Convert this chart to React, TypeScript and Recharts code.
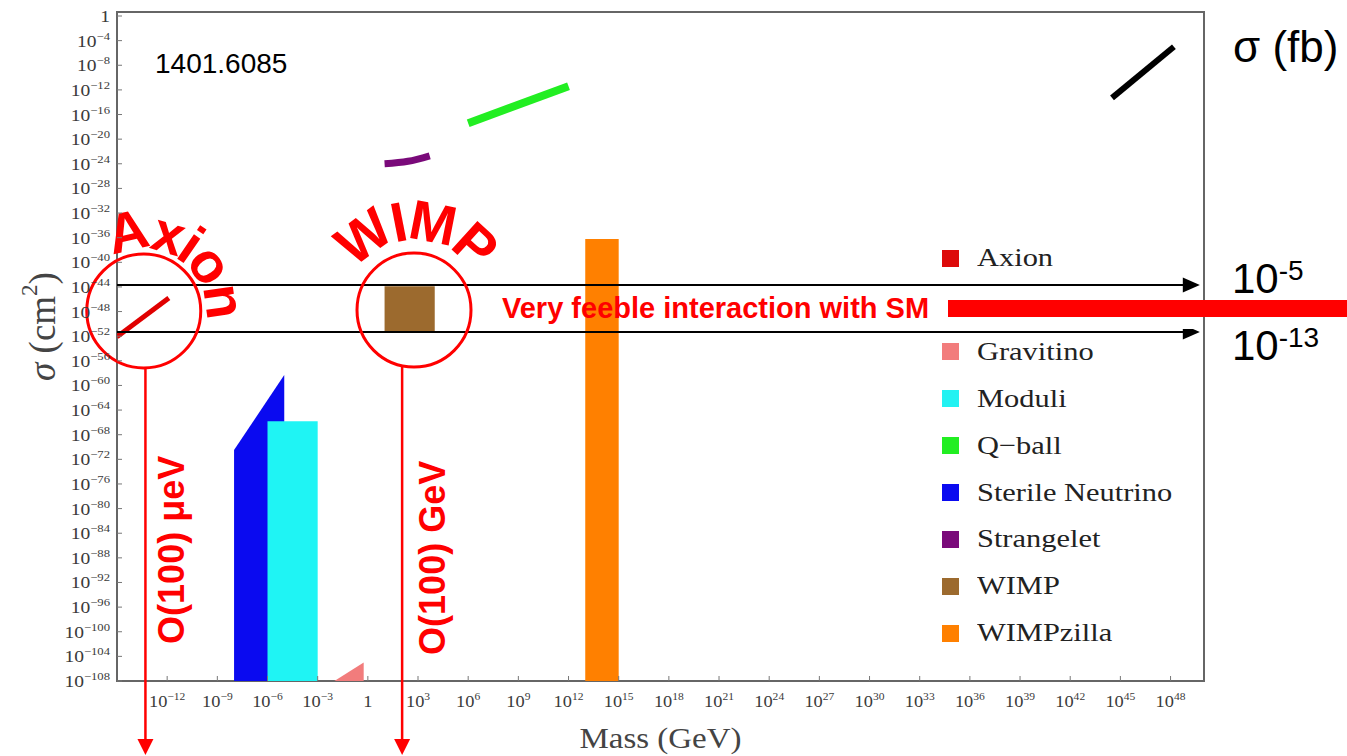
import React from 'react';
import {
  ComposedChart,
  Line,
  Area,
  XAxis,
  YAxis,
  ReferenceArea,
  ReferenceLine,
  ReferenceDot,
} from 'recharts';

// ---- data (log10 of mass in GeV, log10 of sigma in cm^2) ----
const axion = [
  { m: -15.0, s: -52.1 },
  { m: -11.9, s: -45.8 },
];
const blackHoles = [
  { m: 44.5, s: -13.3 },
  { m: 48.2, s: -5.0 },
];
const qBall = [
  { m: 6.0, s: -17.4 },
  { m: 12.0, s: -11.4 },
];
const strangelet = [
  { m: 1.0, s: -24.0 },
  { m: 2.4, s: -23.6 },
  { m: 3.7, s: -22.7 },
];
const gravitino = [
  { m: -2.0, r: [-108, -108] },
  { m: -0.25, r: [-108, -105] },
];
const sterileNeutrino = [
  { m: -8.0, r: [-108, -70.5] },
  { m: -5.0, r: [-108, -58.3] },
];
const moduli = [
  { m: -6.0, r: [-108, -65.8] },
  { m: -3.0, r: [-108, -65.8] },
];
const wimp = [
  { m: 1.0, r: [-51.2, -43.9] },
  { m: 4.0, r: [-51.2, -43.9] },
];
const wimpzilla = [
  { m: 13.0, r: [-108, -36.2] },
  { m: 15.0, r: [-108, -36.2] },
];

const massTicks = [-12, -9, -6, -3, 0, 3, 6, 9, 12, 15, 18, 21, 24, 27, 30, 33, 36, 39, 42, 45, 48];
const sigmaTicks = [
  0, -4, -8, -12, -16, -20, -24, -28, -32, -36, -40, -44, -48, -52, -56, -60, -64, -68,
  -72, -76, -80, -84, -88, -92, -96, -100, -104, -108,
];

const legendNames = [
  'Axion',
  'Black Holes',
  'Gravitino',
  'Moduli',
  'Q\u2212ball',
  'Sterile Neutrino',
  'Strangelet',
  'WIMP',
  'WIMPzilla',
];
const legendColors = [
  '#dd0a0a',
  '#000000',
  '#f27c7c',
  '#22f2f2',
  '#22ee22',
  '#0a0af0',
  '#7a0a7a',
  '#9c6a2e',
  '#ff8000',
];

// annotation anchors (data coordinates)
const circleMarks = [
  { name: 'Axion', m: -13.4, s: -47.9, angle: -57, rb: 62, fs: 56, ls: -4 },
  { name: 'WIMP', m: 2.76, s: -47.75, angle: -90, rb: 70, fs: 56, ls: -4 },
];
const downArrows = [
  { m: -13.3, s: -57.0 },
  { m: 2.05, s: -57.0 },
];
const massLabels = [
  { text: 'O(100) \u03bceV', m: -11.77, s: -86.7 },
  { text: 'O(100) GeV', m: 3.84, s: -88.0 },
];
const feebleBand = [-43.7, -51.3];

const SERIF = '"Liberation Serif", "Times New Roman", serif';
const SANS = '"Liberation Sans", Arial, sans-serif';
const TICK_COLOR = '#3a3a3a';

const YTick = (p: any) => {
  const { x, y, payload } = p;
  const e = payload.value;
  const ax = x + 7;
  return (
    <g>
      <line x1={ax} y1={y} x2={ax + 5} y2={y} stroke="#777" strokeWidth={1} />
      <g transform={`translate(${x},${y + 6}) scale(1.15,1)`}>
        <text x={0} y={0} textAnchor="end" fontFamily={SERIF} fontSize={17} fill={TICK_COLOR}>
          {e === 0 ? (
            '1'
          ) : (
            <>
              <tspan>10</tspan>
              <tspan dy={-7} fontSize={11}>{'\u2212' + Math.abs(e)}</tspan>
            </>
          )}
        </text>
      </g>
    </g>
  );
};

const XTick = (p: any) => {
  const { x, y, payload } = p;
  const e = payload.value;
  return (
    <g>
      <line x1={x} y1={y} x2={x} y2={y - 5} stroke="#777" strokeWidth={1} />
      <g transform={`translate(${x},${y + 26}) scale(1.05,1)`}>
        <text x={0} y={0} textAnchor="middle" fontFamily={SERIF} fontSize={17.5} fill={TICK_COLOR}>
          {e === 0 ? (
            '1'
          ) : (
            <>
              <tspan>10</tspan>
              <tspan dy={-7} fontSize={11}>{(e < 0 ? '\u2212' : '') + Math.abs(e)}</tspan>
            </>
          )}
        </text>
      </g>
    </g>
  );
};

const XLabel = (p: any) => {
  const vb = p.viewBox || { x: 117, y: 681, width: 1087, height: 75 };
  const cx = vb.x + vb.width / 2;
  return (
    <g transform={`translate(${cx},748) scale(1.1,1)`}>
      <text x={0} y={0} textAnchor="middle" fontFamily={SERIF} fontSize={30} fill="#444">
        Mass (GeV)
      </text>
    </g>
  );
};

const YLabel = (p: any) => {
  const vb = p.viewBox || { x: 0, y: 12, width: 117, height: 669 };
  const cy = vb.y + vb.height / 2 - 20;
  return (
    <text
      transform={`translate(42,${cy}) rotate(-90)`}
      textAnchor="middle"
      dominantBaseline="central"
      fontFamily={SERIF}
      fontSize={37}
      fill="#444"
    >
      <tspan fontStyle="italic">σ</tspan>
      <tspan> (cm</tspan>
      <tspan dy={-13} fontSize={23}>2</tspan>
      <tspan dy={13}>)</tspan>
    </text>
  );
};

const arrowRight = (p: any) => {
  const { x1, y1, x2, y2 } = p;
  return (
    <g>
      <line x1={x1} y1={y1} x2={x2 - 14} y2={y2} stroke="#000" strokeWidth={2} />
      <polygon points={`${x2},${y2} ${x2 - 17},${y2 - 7.5} ${x2 - 17},${y2 + 7.5}`} fill="#000" />
    </g>
  );
};

const makeCircle = (mark: any) => (p: any) => {
  const { cx, cy } = p;
  const rb = mark.rb;
  const a1 = ((mark.angle - 90) * Math.PI) / 180;
  const a2 = ((mark.angle + 90) * Math.PI) / 180;
  const sx = cx + rb * Math.cos(a1);
  const sy = cy + rb * Math.sin(a1);
  const ex = cx + rb * Math.cos(a2);
  const ey = cy + rb * Math.sin(a2);
  const id = 'arc-' + mark.name;
  return (
    <g>
      <circle cx={cx} cy={cy} r={57} fill="none" stroke="#ff0000" strokeWidth={3} />
      <path id={id} d={`M ${sx} ${sy} A ${rb} ${rb} 0 0 1 ${ex} ${ey}`} fill="none" stroke="none" />
      <text
        fontFamily={SANS}
        fontWeight="bold"
        fontSize={mark.fs}
        letterSpacing={mark.ls}
        fill="#ff0000"
      >
        <textPath href={`#${id}`} startOffset="50%" textAnchor="middle">
          {mark.name}
        </textPath>
      </text>
    </g>
  );
};

const arrowDown = (p: any) => {
  const { cx, cy } = p;
  return (
    <g>
      <line x1={cx} y1={cy} x2={cx} y2={742} stroke="#ff0000" strokeWidth={2.5} />
      <polygon points={`${cx},755 ${cx - 8},739 ${cx + 8},739`} fill="#ff0000" />
    </g>
  );
};

const makeMassLabel = (text: string) => (p: any) => {
  const { cx, cy } = p;
  return (
    <text
      transform={`translate(${cx},${cy}) rotate(-90)`}
      textAnchor="middle"
      dominantBaseline="central"
      fontFamily={SANS}
      fontWeight="bold"
      fontSize={36}
      fill="#ff0000"
    >
      {text}
    </text>
  );
};

const areaCommon = {
  type: 'linear' as const,
  dataKey: 'r',
  stroke: 'none',
  fillOpacity: 1,
  dot: false,
  activeDot: false,
  isAnimationActive: false,
};
const lineCommon = {
  dataKey: 's',
  dot: false,
  activeDot: false,
  isAnimationActive: false,
};

export default function App() {
  return (
    <div
      style={{
        position: 'absolute',
        left: 0,
        top: 0,
        width: 1347,
        height: 756,
        background: '#fff',
        overflow: 'hidden',
      }}
    >
      <ComposedChart width={1347} height={756} margin={{ top: 12, right: 143, bottom: 0, left: 0 }}>
        <XAxis
          type="number"
          dataKey="m"
          domain={[-15, 50]}
          ticks={massTicks}
          interval={0}
          allowDataOverflow
          axisLine={false}
          tickLine={false}
          tickSize={0}
          tickMargin={0}
          height={75}
          tick={XTick}
          label={XLabel}
        />
        <YAxis
          type="number"
          domain={[-108, 0.65]}
          ticks={sigmaTicks}
          interval={0}
          allowDataOverflow
          axisLine={false}
          tickLine={false}
          tickSize={0}
          tickMargin={7}
          width={117}
          tick={YTick}
          label={YLabel}
        />
        <ReferenceArea
          x1={-15}
          x2={50}
          y1={-108}
          y2={0.65}
          fill="none"
          stroke="#666"
          strokeWidth={2}
          ifOverflow="visible"
        />
        <Area {...areaCommon} data={sterileNeutrino} fill="#0a0af0" name="Sterile Neutrino" />
        <Area {...areaCommon} data={moduli} fill="#1ff4f4" name="Moduli" />
        <Area {...areaCommon} data={gravitino} fill="#f27c7c" name="Gravitino" />
        <Area {...areaCommon} data={wimp} fill="#9c6a2e" name="WIMP" />
        <Area {...areaCommon} data={wimpzilla} fill="#ff8000" name="WIMPzilla" />
        <Line {...lineCommon} type="linear" data={axion} stroke="#e00000" strokeWidth={5} name="Axion" />
        <Line {...lineCommon} type="linear" data={blackHoles} stroke="#000" strokeWidth={6} name="Black Holes" />
        <Line {...lineCommon} type="linear" data={qBall} stroke="#22ee22" strokeWidth={8} name="Q-ball" />
        <Line {...lineCommon} type="monotone" data={strangelet} stroke="#7a0a7a" strokeWidth={7} name="Strangelet" />
        {feebleBand.map((s) => (
          <ReferenceLine
            key={'band' + s}
            segment={[
              { x: -15, y: s },
              { x: 49.75, y: s },
            ]}
            ifOverflow="visible"
            shape={arrowRight}
          />
        ))}
        {circleMarks.map((c) => (
          <ReferenceDot key={c.name} x={c.m} y={c.s} ifOverflow="visible" shape={makeCircle(c)} />
        ))}
        {downArrows.map((a, i) => (
          <ReferenceDot key={'arr' + i} x={a.m} y={a.s} ifOverflow="visible" shape={arrowDown} />
        ))}
        {massLabels.map((l) => (
          <ReferenceDot key={l.text} x={l.m} y={l.s} ifOverflow="visible" shape={makeMassLabel(l.text)} />
        ))}
      </ComposedChart>

      {/* legend */}
      <div style={{ position: 'absolute', left: 0, top: 0, width: 1347, height: 756, pointerEvents: 'none' }}>
        {legendNames.map((n, i) => {
          const cy = 258 + i * 46.9;
          return (
            <div key={n}>
              <div
                style={{
                  position: 'absolute',
                  left: 942,
                  top: cy - 8.5,
                  width: 17,
                  height: 17,
                  background: legendColors[i],
                }}
              />
              <div
                style={{
                  position: 'absolute',
                  left: 977,
                  top: cy - 15,
                  height: 30,
                  lineHeight: '30px',
                  fontFamily: SERIF,
                  fontSize: 26,
                  color: '#222',
                  whiteSpace: 'nowrap',
                  transform: 'scaleX(1.17)',
                  transformOrigin: 'left center',
                }}
              >
                {n}
              </div>
            </div>
          );
        })}
      </div>

      {/* overlay annotations */}
      <svg
        width={1347}
        height={756}
        style={{ position: 'absolute', left: 0, top: 0, pointerEvents: 'none' }}
      >
        <rect x={935} y={296} width={262} height={33} fill="#fff" />
        <rect x={948} y={300} width={420} height={17} fill="#ff0000" />
        <text x={502} y={318} fontFamily={SANS} fontWeight="bold" fontSize={29} fill="#ff0000">
          Very feeble interaction with SM
        </text>
        <text x={155} y={73} fontFamily={SANS} fontSize={28} fill="#000">
          1401.6085
        </text>
        <text x={1233} y={62} fontFamily={SANS} fontSize={44} fill="#000">
          σ (fb)
        </text>
        <text x={1232} y={293} fontFamily={SANS} fontSize={42} fill="#000">
          10
          <tspan dy={-13} fontSize={28}>
            -5
          </tspan>
        </text>
        <text x={1232} y={360} fontFamily={SANS} fontSize={42} fill="#000">
          10
          <tspan dy={-13} fontSize={28}>
            -13
          </tspan>
        </text>
      </svg>
    </div>
  );
}
